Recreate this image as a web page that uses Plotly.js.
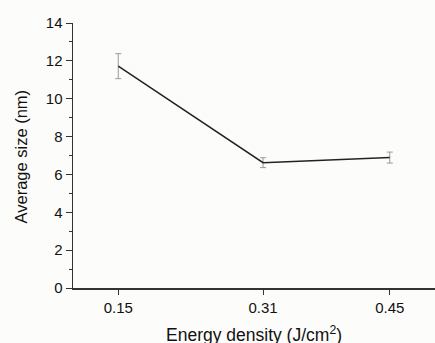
<!DOCTYPE html>
<html>
<head>
<meta charset="utf-8">
<script src="https://cdn.plot.ly/plotly-3.0.1.min.js"></script>
<style>
html,body{margin:0;padding:0;overflow:hidden;background:#fcfcfa;}
#chart{width:435px;height:343px;}
</style>
</head>
<body>
<div id="chart"></div>
<script>
const energyDensity = [0.15, 0.31, 0.45];
const averageSize = [11.72, 6.62, 6.89];
const sizeError = [0.66, 0.26, 0.29];
const xTickLabels = ['0.15', '0.31', '0.45'];
const yTicks = [0, 2, 4, 6, 8, 10, 12, 14];

const trace = {
  x: energyDensity,
  y: averageSize,
  type: 'scatter',
  mode: 'lines',
  line: {color: '#222', width: 1.5},
  error_y: {type: 'data', array: sizeError, visible: true, color: '#999', thickness: 1, width: 3},
  hoverinfo: 'none'
};

const layout = {
  width: 435, height: 343,
  margin: {l: 73, r: 0, t: 23, b: 55},
  paper_bgcolor: '#fcfcfa',
  plot_bgcolor: '#fcfcfa',
  showlegend: false,
  font: {family: 'Liberation Sans, Arial, sans-serif', color: '#111'},
  xaxis: {
    range: [0.1, 0.5],
    tickvals: energyDensity,
    ticktext: xTickLabels,
    ticks: 'outside', ticklen: 5, tickwidth: 1, tickcolor: '#333',
    showline: true, linecolor: '#333', linewidth: 1.5,
    showgrid: false, zeroline: false,
    tickfont: {size: 15, color: '#111'}
  },
  yaxis: {
    range: [0, 14],
    tickvals: yTicks,
    ticks: 'outside', ticklen: 6, tickwidth: 1, tickcolor: '#333',
    minor: {dtick: 1, ticklen: 3, ticks: 'outside', tickcolor: '#333', showgrid: false},
    showline: true, linecolor: '#333', linewidth: 1.5,
    showgrid: false, zeroline: false,
    tickfont: {size: 15, color: '#111'}
  },
  annotations: [
    {text: 'Energy density (J/cm<sup>2</sup>)', xref: 'paper', yref: 'paper', x: 0.5, y: 0,
     yshift: -46, xanchor: 'center', yanchor: 'middle', showarrow: false,
     font: {size: 17.5, color: '#111'}},
    {text: 'Average size (nm)', xref: 'paper', yref: 'paper', x: 0, y: 0.5,
     xshift: -53, yshift: -1, xanchor: 'center', yanchor: 'middle', textangle: -90, showarrow: false,
     font: {size: 16.5, color: '#111'}}
  ]
};

Plotly.newPlot('chart', [trace], layout, {displayModeBar: false, staticPlot: true});
</script>
</body>
</html>
